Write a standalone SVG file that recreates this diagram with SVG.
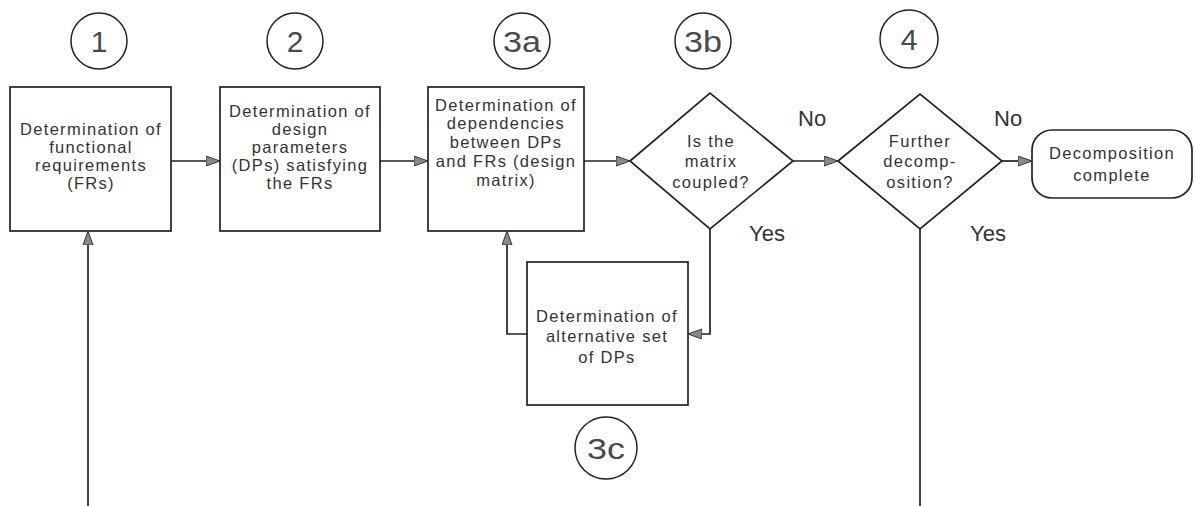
<svg xmlns="http://www.w3.org/2000/svg" width="1195" height="506" viewBox="0 0 1195 506">
  <defs>
    <marker id="arrow" markerUnits="userSpaceOnUse" markerWidth="15" markerHeight="11" refX="14" refY="5" orient="auto">
      <path d="M0,0 L14,5 L0,10 Z" fill="#8a8a8a" stroke="#333" stroke-width="1"/>
    </marker>
  </defs>
  <style>
    .shape { fill: #fff; stroke: #222; stroke-width: 1.7; }
    .ring { fill: #fff; stroke: #222; stroke-width: 1.5; }
    .txt { font-family: "Liberation Sans", Arial, sans-serif; font-size: 16.5px; letter-spacing: 1.3px; fill: #333; text-anchor: middle; }
    .num { font-family: "Liberation Sans", Arial, sans-serif; font-size: 30px; fill: #4a4a4a; text-anchor: middle; }
    .lbl { font-family: "Liberation Sans", Arial, sans-serif; font-size: 22px; fill: #333; }
    .wire { fill: none; stroke: #222; stroke-width: 1.7; }
  </style>
  <rect width="1195" height="506" fill="#fff"/>

  <!-- step markers -->
  <g id="step-1"><circle class="ring" cx="99" cy="41" r="28"/><text class="num" x="99" y="52">1</text></g>
  <g id="step-2"><circle class="ring" cx="295" cy="41" r="28"/><text class="num" x="295" y="52">2</text></g>
  <g id="step-3a"><circle class="ring" cx="522" cy="41" r="28"/><text class="num" x="522" y="52" textLength="38" lengthAdjust="spacingAndGlyphs">3a</text></g>
  <g id="step-3b"><circle class="ring" cx="703" cy="41" r="28"/><text class="num" x="703" y="52" textLength="38" lengthAdjust="spacingAndGlyphs">3b</text></g>
  <g id="step-4"><circle class="ring" cx="909" cy="39" r="29"/><text class="num" x="909" y="50">4</text></g>
  <g id="step-3c"><circle class="ring" cx="606" cy="448" r="31"/><text class="num" x="606" y="459" textLength="38" lengthAdjust="spacingAndGlyphs">3c</text></g>

  <!-- process boxes -->
  <g id="box-frs">
    <rect class="shape" x="10" y="87" width="161" height="144"/>
    <text class="txt" x="91" y="135">Determination of</text>
    <text class="txt" x="91" y="153">functional</text>
    <text class="txt" x="91" y="171">requirements</text>
    <text class="txt" x="91" y="189">(FRs)</text>
  </g>
  <g id="box-dps">
    <rect class="shape" x="220" y="87" width="160" height="144"/>
    <text class="txt" x="300" y="117">Determination of</text>
    <text class="txt" x="300" y="135">design</text>
    <text class="txt" x="300" y="153">parameters</text>
    <text class="txt" x="300" y="171">(DPs) satisfying</text>
    <text class="txt" x="300" y="189">the FRs</text>
  </g>
  <g id="box-matrix">
    <rect class="shape" x="428" y="87" width="156" height="144"/>
    <text class="txt" x="506" y="111">Determination of</text>
    <text class="txt" x="506" y="129">dependencies</text>
    <text class="txt" x="506" y="148">between DPs</text>
    <text class="txt" x="506" y="167">and FRs (design</text>
    <text class="txt" x="506" y="186">matrix)</text>
  </g>
  <g id="decision-coupled">
    <polygon class="shape" points="630,161 710,93 793,161 710,229"/>
    <text class="txt" x="711" y="147">Is the</text>
    <text class="txt" x="711" y="167">matrix</text>
    <text class="txt" x="711" y="188">coupled?</text>
  </g>
  <g id="decision-further">
    <polygon class="shape" points="838,161 920,94 1002,161 920,229"/>
    <text class="txt" x="920" y="147">Further</text>
    <text class="txt" x="920" y="167">decomp-</text>
    <text class="txt" x="920" y="188">osition?</text>
  </g>
  <g id="terminal-complete">
    <rect class="shape" x="1032" y="130" width="160" height="68" rx="20" ry="20"/>
    <text class="txt" x="1112" y="159">Decomposition</text>
    <text class="txt" x="1112" y="181">complete</text>
  </g>
  <g id="box-alternative">
    <rect class="shape" x="527" y="262" width="161" height="143"/>
    <text class="txt" x="607" y="322">Determination of</text>
    <text class="txt" x="607" y="342">alternative set</text>
    <text class="txt" x="607" y="363">of DPs</text>
  </g>

  <!-- branch labels -->
  <g id="labels">
    <text class="lbl" x="798" y="126">No</text>
    <text class="lbl" x="994" y="126">No</text>
    <text class="lbl" x="749" y="241">Yes</text>
    <text class="lbl" x="970" y="241">Yes</text>
  </g>

  <!-- connectors -->
  <g id="connectors">
    <path class="wire" d="M171,161 H220" marker-end="url(#arrow)"/>
    <path class="wire" d="M380,161 H428" marker-end="url(#arrow)"/>
    <path class="wire" d="M584,161 H630" marker-end="url(#arrow)"/>
    <path class="wire" d="M793,161 H838" marker-end="url(#arrow)"/>
    <path class="wire" d="M1002,161 H1032" marker-end="url(#arrow)"/>
    <path class="wire" d="M710,229 V334 H688" marker-end="url(#arrow)"/>
    <path class="wire" d="M527,334 H507 V231" marker-end="url(#arrow)"/>
    <path class="wire" d="M88,506 V231" marker-end="url(#arrow)"/>
    <path class="wire" d="M920,229 V506"/>
  </g>
</svg>
